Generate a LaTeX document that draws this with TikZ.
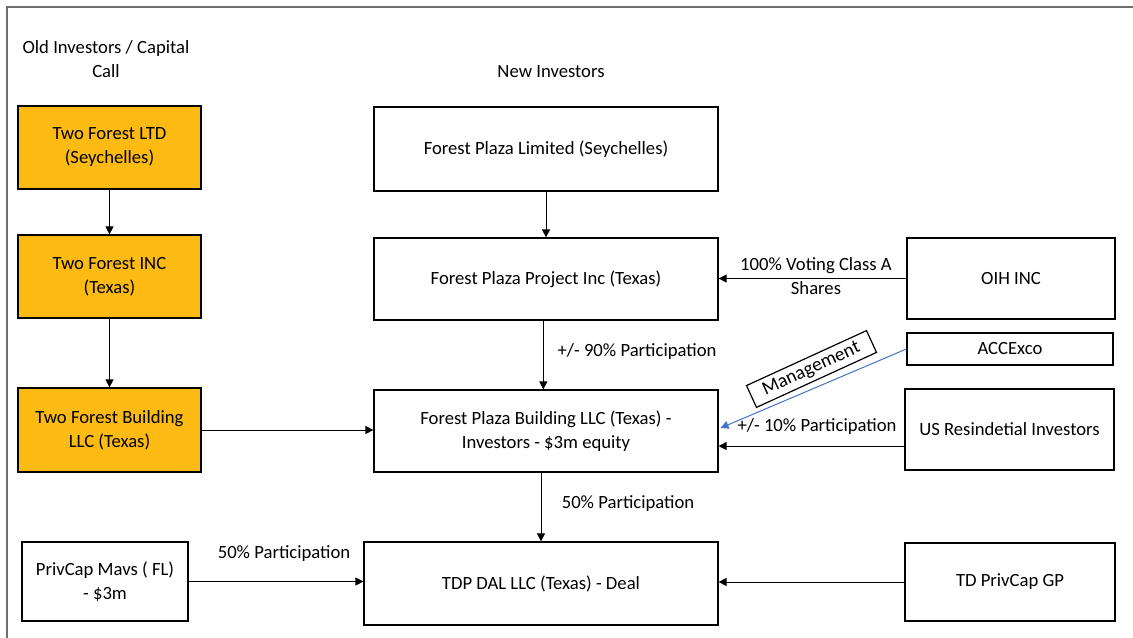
\documentclass[tikz,border=0pt]{standalone}
\usepackage{fontspec}
\setmainfont{Carlito}
\usetikzlibrary{arrows.meta,calc}
\definecolor{gold}{RGB}{252,186,18}
\definecolor{framegray}{RGB}{110,110,110}
\definecolor{mgmtblue}{RGB}{68,114,196}
\begin{document}
\begin{tikzpicture}[x=0.75pt,y=-0.75pt,
  box/.style={draw=black,line width=0.9pt,fill=white,inner sep=0pt,align=center,
    font=\fontsize{14}{18}\selectfont},
  sz/.style 2 args={minimum width=#1*0.75pt,minimum height=#2*0.75pt},
  oldbox/.style={box,fill=gold},
  lbl/.style={align=center,inner sep=1pt,font=\fontsize{14}{18}\selectfont},
  arr/.style={line width=0.75pt,-{Triangle[length=6pt,width=6pt]}}]
\useasboundingbox (0,0) rectangle (1133,638);
\draw[framegray,line width=1.6pt] (7,638) -- (7,7) -- (1133,7);

% headings
\node[lbl] (hold) at (106,59) {Old Investors / Capital\\Call};
\node[lbl] (hnew) at (551,72) {New Investors};

% old investors
\node[oldbox,sz={183}{83}] (tfl) at (109.5,147.5) {Two Forest LTD\\(Seychelles)};
\node[oldbox,sz={183}{83}] (tfi) at (109.5,276.5) {Two Forest INC\\(Texas)};
\node[oldbox,sz={183}{84}] (tfb) at (109.5,430) {Two Forest Building\\LLC (Texas)};

% new investors
\node[box,sz={344}{84}] (fpl) at (546,149) {Forest Plaza Limited (Seychelles)};
\node[box,sz={344}{82}] (fpp) at (546,279) {Forest Plaza Project Inc (Texas)};
\node[box,sz={344}{82}] (fpb) at (546,431) {Forest Plaza Building LLC (Texas) -\\Investors - \$3m equity};
\node[box,sz={354}{83}] (tdp) at (541,583.5) {TDP DAL LLC (Texas) - Deal};
\node[box,sz={166}{79}] (pcm) at (105,581.5) {PrivCap Mavs ( FL)\\- \$3m};

% right column
\node[box,sz={208}{81}] (oih) at (1011,278.5) {OIH INC};
\node[box,sz={206}{32}] (acc) at (1010,349) {ACCExco};
\node[box,sz={209}{81}] (usr) at (1009.5,429.5) {US Resindetial Investors};
\node[box,sz={210}{78}] (tdg) at (1010,582) {TD PrivCap GP};

% connectors
\draw[arr] (tfl.south) -- (tfi.north);
\draw[arr] (tfi.south) -- (tfb.north);
\draw[arr] (tfb.east) -- (tfb.east -| fpb.west);
\draw[arr] (fpl.south) -- (fpp.north);
\draw[arr] (oih.west) -- (oih.west -| fpp.east);
\draw[arr] ([xshift=-2pt]fpp.south) -- ([xshift=-2pt]fpb.north);
\draw[arr] ([yshift=-12.4pt]usr.west) -- ([yshift=-12.4pt]usr.west -| fpb.east);
\draw[line width=0.75pt,mgmtblue,-{Triangle[length=6pt,width=6pt]}] (acc.west) -- ([yshift=2.25pt,xshift=1.5pt]fpb.east);
\draw[arr] (fpb.south -| tdp.north) -- (tdp.north);
\draw[arr] (pcm.east) -- (pcm.east -| tdp.west);
\draw[arr] (tdg.west) -- (tdg.west -| tdp.east);

% labels
\node[lbl] (l100) at (816,276) {100\% Voting Class A\\Shares};
\node[lbl] (l90) at (637,352) {+/- 90\% Participation};
\node[lbl] (l10) at (817,427) {+/- 10\% Participation};
\node[lbl] (l50a) at (628,504) {50\% Participation};
\node[lbl] (l50b) at (284,554) {50\% Participation};
\node[box,rotate=24.6,minimum width=99pt,minimum height=18pt,inner sep=1pt,
  font=\fontsize{14.5}{18}\selectfont] (mgmt) at (811.5,369) {Management};
\end{tikzpicture}
\end{document}
